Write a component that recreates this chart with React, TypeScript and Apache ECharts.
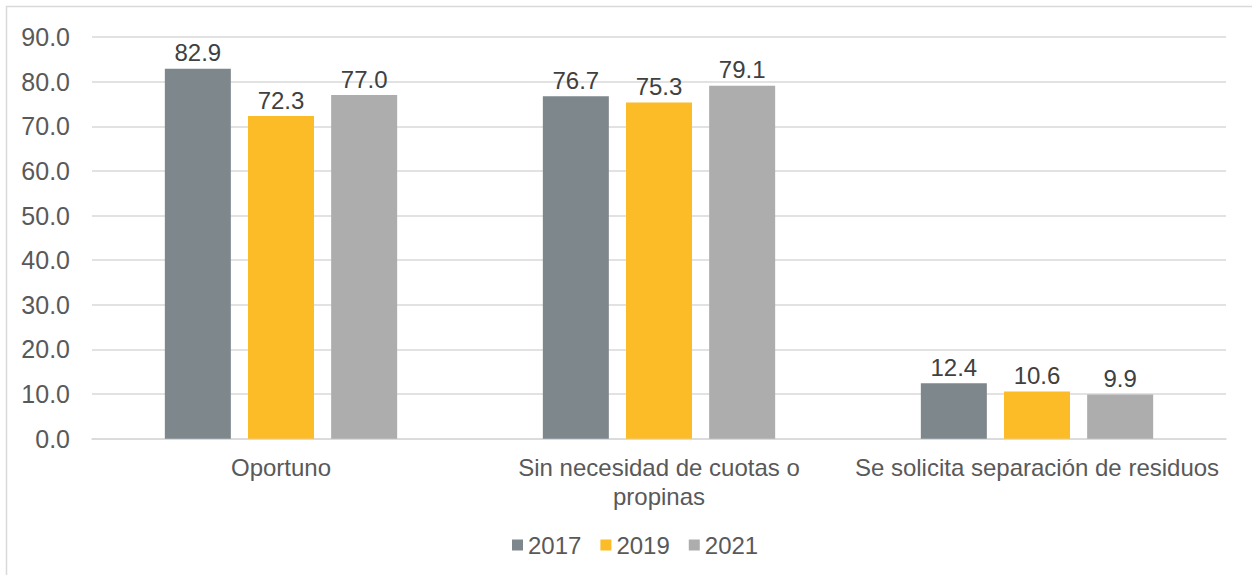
import React, { useEffect, useRef } from "react";
import * as echarts from "echarts";

const categories = ["Oportuno", "Sin necesidad de cuotas o\npropinas", "Se solicita separación de residuos"];
const seriesNames = ["2017", "2019", "2021"];
const values2017 = [82.9, 76.7, 12.4];
const values2019 = [72.3, 75.3, 10.6];
const values2021 = [77.0, 79.1, 9.9];
const colors = ["#7E878C", "#FBBC28", "#ADADAD"];

const FONT = "'Liberation Sans', Arial, sans-serif";
const TEXT = "#595959";
const FS = 24;

export default function App() {
  const ref = useRef<HTMLDivElement>(null);
  useEffect(() => {
    if (!ref.current) return;
    const chart = echarts.init(ref.current, undefined, { renderer: "svg" });
    const data = [values2017, values2019, values2021];
    chart.setOption({
      animation: false,
      textStyle: { fontFamily: FONT },
      graphic: [
        {
          type: "rect",
          shape: { x: 6.5, y: 6.5, width: 1400, height: 700 },
          style: { fill: "none", stroke: "#D9D9D9", lineWidth: 1.5 },
          silent: true,
        },
      ],
      grid: { left: 92, right: 26, top: 37, bottom: 136.3, containLabel: false },
      legend: {
        data: seriesNames,
        bottom: 13,
        left: 507,
        icon: "rect",
        itemWidth: 11,
        itemHeight: 11,
        itemGap: 19,
        textStyle: { color: TEXT, fontSize: FS, fontFamily: FONT },
      },
      xAxis: {
        type: "category",
        data: categories,
        axisLine: { lineStyle: { color: "#D9D9D9", width: 1.5 } },
        axisTick: { show: false },
        axisLabel: { color: TEXT, fontSize: FS, fontFamily: FONT, margin: 14, lineHeight: 29, interval: 0 },
      },
      yAxis: {
        type: "value",
        min: 0,
        max: 90,
        interval: 10,
        axisLine: { show: false },
        axisTick: { show: false },
        splitLine: { lineStyle: { color: "#D9D9D9", width: 1.5 } },
        axisLabel: {
          color: TEXT,
          fontSize: 25,
          fontFamily: FONT,
          margin: 22,
          formatter: (v: number) => v.toFixed(1),
        },
      },
      series: seriesNames.map((name, i) => ({
        name,
        type: "bar",
        data: data[i],
        barWidth: 66,
        barGap: "26%",
        itemStyle: { color: colors[i] },
        label: {
          show: true,
          position: "top",
          distance: 4,
          color: "#404040",
          fontSize: FS,
          fontFamily: FONT,
          formatter: (p: any) => Number(p.value).toFixed(1),
        },
      })),
    });
    return () => chart.dispose();
  }, []);
  return (
    <div
      ref={ref}
      style={{ position: "absolute", left: 0, top: 0, width: 1252, height: 575, background: "#fff" }}
    />
  );
}
